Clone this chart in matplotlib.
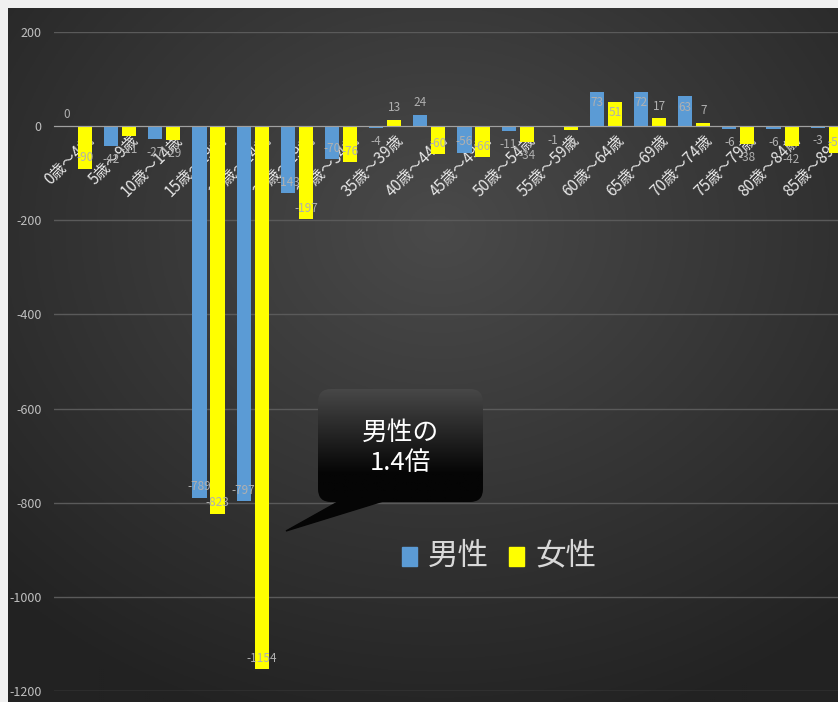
import numpy as np
import matplotlib
matplotlib.use('Agg')
import matplotlib.pyplot as plt
from matplotlib.patches import FancyBboxPatch, Polygon, Rectangle

plt.rcParams['font.family'] = ['Noto Sans CJK JP', 'DejaVu Sans']

# datos
edades = ['0歳～4歳', '5歳～9歳', '10歳～14歳', '15歳～19歳', '20歳～24歳', '25歳～29歳',
          '30歳～34歳', '35歳～39歳', '40歳～44歳', '45歳～49歳', '50歳～54歳', '55歳～59歳',
          '60歳～64歳', '65歳～69歳', '70歳～74歳', '75歳～79歳', '80歳～84歳', '85歳～89歳']
hombres = [0, -42, -27, -789, -797, -143, -70, -4, 24, -56, -11, -1, 73, 72, 63, -6, -6, -3]
mujeres = [-90, -21, -29, -823, -1154, -197, -76, 13, -60, -66, -34, -8, 51, 17, 7, -38, -42, -58]
yticks = [200, 0, -200, -400, -600, -800, -1000, -1200]

W, H = 838, 702
fig = plt.figure(figsize=(W / 100, H / 100), dpi=100, facecolor='#f0f0f0')

# fondo oscuro con degradado radial
bg = fig.add_axes([8 / W, 0, 1 - 8 / W, (H - 8) / H])
yy, xx = np.mgrid[0:347, 0:415]
r = np.sqrt(((xx - 215) / 415) ** 2 + ((yy - 110) / 347) ** 2)
r = np.clip(r / 0.75, 0, 1)
val = 0x4a + (0x22 - 0x4a) * r
img = np.dstack([val, val, val]) / 255
bg.imshow(img, aspect='auto', extent=(0, 1, 0, 1), origin='upper')
bg.axis('off')

ax = fig.add_axes([54 / W, 1 - 691 / H, 1 - 54 / W, (691 - 32) / H])
ax.set_facecolor('none')
x = np.arange(len(edades))
w = 0.32
off = 0.204
ax.bar(x - off, hombres, w, color='#5b9bd5', zorder=3)
ax.bar(x + off, mujeres, w, color='#ffff00', zorder=3)
ax.set_xlim(-0.5, (W - 76) / 44.16)
ax.set_ylim(-1200, 200)
ax.set_yticks(yticks)
ax.set_yticklabels([str(v) for v in yticks])
ax.tick_params(axis='y', length=0, pad=9, labelsize=9, labelcolor='#bfbfbf')
ax.grid(axis='y', color='#5a5a5a', linewidth=1, zorder=0)
for s in ['top', 'right', 'left']:
    ax.spines[s].set_visible(False)
ax.spines['bottom'].set_position(('data', 0))
ax.spines['bottom'].set_color('#a0a0a0')
ax.spines['bottom'].set_zorder(4)
ax.set_xticks(x + 0.22)
ax.set_xticklabels(edades, rotation=45, ha='right', va='top', rotation_mode='anchor')
ax.tick_params(axis='x', length=0, pad=4, labelsize=11, labelcolor='#e6e6e6')
for t in ax.get_xticklabels():
    t.set_zorder(5)

# etiquetas de datos
def etiquetas(xs, vals):
    for xi, v in zip(xs, vals):
        dentro = abs(v) > 45
        if v >= 0:
            dy, va = (-3, 'top') if dentro else (4, 'bottom')
        else:
            dy, va = (3, 'bottom') if dentro else (-5, 'top')
        ax.annotate(str(v), (xi, v), xytext=(0, dy), textcoords='offset points',
                    ha='center', va=va, fontsize=8.5, color='#b0b0b0', zorder=6)

etiquetas(x - off, hombres)
etiquetas(x + off, mujeres)

# leyenda
fig.patches.append(Rectangle((402 / W, 1 - 566 / H), 15 / W, 19 / H, color='#5b9bd5',
                             transform=fig.transFigure, figure=fig))
fig.text(428 / W, 1 - 556 / H, '男性', fontsize=22, color='#d9d9d9', va='center')
fig.patches.append(Rectangle((509 / W, 1 - 566 / H), 15 / W, 19 / H, color='#ffff00',
                             transform=fig.transFigure, figure=fig))
fig.text(535 / W, 1 - 556 / H, '女性', fontsize=22, color='#d9d9d9', va='center')

# globo de texto
ov = fig.add_axes([0, 0, 1, 1])
ov.set_xlim(0, W)
ov.set_ylim(H, 0)
ov.axis('off')
cola = Polygon([(345, 498), (393, 498), (286, 531)], closed=True, color='#050505')
ov.add_patch(cola)
caja = FancyBboxPatch((318, 389), 165, 113, boxstyle='round,pad=0,rounding_size=13',
                      facecolor='none', edgecolor='none')
ov.add_patch(caja)
g = np.linspace(0, 1, 100)
g = 0x42 * (1 - np.clip(g / 0.75, 0, 1)) + 5
grad = np.dstack([g, g, g])[:, None, :].reshape(100, 1, 3) / 255
im = ov.imshow(np.repeat(grad, 10, axis=1), extent=(318, 483, 502, 389), origin='upper',
               aspect='auto')
im.set_clip_path(caja)
ov.set_xlim(0, W)
ov.set_ylim(H, 0)
ov.text(400, 448, '男性の\n1.4倍', ha='center', va='center', fontsize=18.5,
        color='white', linespacing=1.25)

fig.savefig('out.png', dpi=100, facecolor=fig.get_facecolor())
